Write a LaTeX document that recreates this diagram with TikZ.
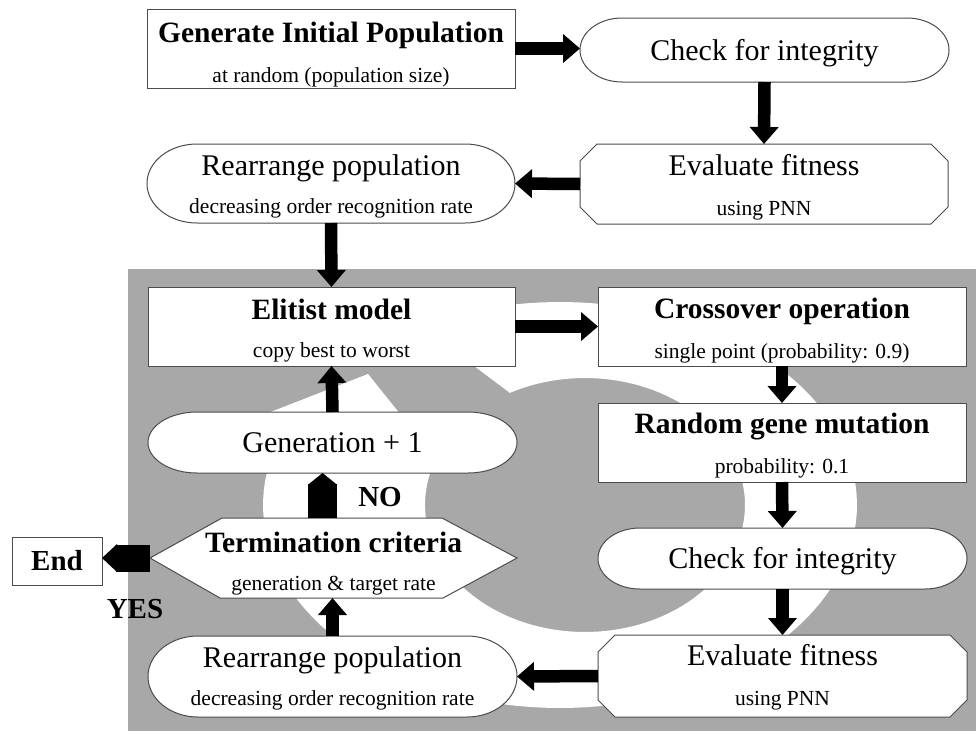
\documentclass[tikz,border=0pt]{standalone}
\usepackage{fontspec}
\setmainfont{Liberation Serif}
\usetikzlibrary{arrows.meta}
\pgfdeclarelayer{bg}
\pgfdeclarelayer{shp}
\pgfsetlayers{bg,shp,main}
\definecolor{bgc}{gray}{0.66}
\definecolor{edgec}{gray}{0.3}
\newcommand\drawstadium[3]{%
  \path[outl] ([xshift=#2pt]#1.north west) -- ([xshift=-#2pt]#1.north east)
    arc[start angle=90, end angle=-90, x radius=#2pt, y radius=#3pt]
    -- ([xshift=#2pt]#1.south west)
    arc[start angle=270, end angle=90, x radius=#2pt, y radius=#3pt] -- cycle;}
\newcommand\drawchamf[2]{%
  \path[outl] ([xshift=#2pt]#1.north west) -- ([xshift=-#2pt]#1.north east)
    -- ([yshift=-#2pt]#1.north east) -- ([yshift=#2pt]#1.south east)
    -- ([xshift=-#2pt]#1.south east) -- ([xshift=#2pt]#1.south west)
    -- ([yshift=#2pt]#1.south west) -- ([yshift=-#2pt]#1.north west) -- cycle;}
\newcommand\drawhexa[1]{%
  \path[outl] (#1.west) -- ([xshift=72pt]#1.north west) -- ([xshift=-75pt]#1.north east)
    -- (#1.east) -- ([xshift=-74pt]#1.south east) -- ([xshift=70pt]#1.south west) -- cycle;}
\begin{document}
\begin{tikzpicture}[x=1pt,y=-1pt,
  slot/.style 2 args={inner sep=0pt, outer sep=0pt, minimum width=#1pt, minimum height=#2pt},
  rbox/.style={draw=edgec, fill=white, line width=1pt},
  outl/.style={draw=edgec, fill=white, line width=1pt},
  btitle/.style={font=\fontsize{29.5}{30}\selectfont\bfseries, inner sep=0pt, anchor=base},
  rtitle/.style={font=\fontsize{30}{31}\selectfont, inner sep=0pt, anchor=base},
  subt/.style={font=\fontsize{21.5}{22}\selectfont, inner sep=0pt, anchor=base},
  lbl/.style={font=\fontsize{29}{30}\selectfont\bfseries, inner sep=0pt, anchor=base},
  fat/.style={line width=12.5pt, -{Triangle[width=28pt,length=17pt]}},
  house/.style={line width=29pt, -{Triangle[width=29pt,length=12pt]}},
  yesarr/.style={line width=27pt, -{Triangle[width=27pt,length=15pt]}}]
\useasboundingbox (0,0) rectangle (976,731);
\begin{pgfonlayer}{bg}
  \fill[white] (0,0) rectangle (976,731);
  \fill[bgc] (128,269) rectangle (976,731);
  \fill[white] plot[domain=242:560,samples=120] ({560+297*cos(\x)},{505+203*sin(\x)})
     -- plot[domain=560:242,samples=120] ({585+160*cos(\x)},{505+127*sin(\x)}) -- cycle;
  \fill[white] (368,374) -- (250,420) -- (445,470) -- cycle;
\end{pgfonlayer}

% shape slots
\node[slot={368}{79}, rbox] (gen) at (331,48.5) {};
\node[slot={369}{64}] (chk1) at (764.5,50) {};
\node[slot={368}{80}] (ev1) at (764,184) {};
\node[slot={368}{79}] (re1) at (331,183.5) {};
\node[slot={367}{79}, rbox] (el) at (331.5,326.5) {};
\node[slot={368}{79}, rbox] (co) at (782,326.5) {};
\node[slot={368}{79}, rbox] (rg) at (782,442.5) {};
\node[slot={369}{61}] (chk2) at (782.5,558.5) {};
\node[slot={369}{82}] (ev2) at (782.5,676) {};
\node[slot={369}{81}] (re2) at (332.5,676.5) {};
\node[slot={367}{80}] (tc) at (333.5,558) {};
\node[slot={369}{61}] (gn) at (332.5,442.5) {};
\node[slot={90}{48}, rbox] (endb) at (57,561) {};

\begin{pgfonlayer}{shp}
  \drawstadium{chk1}{42}{32}
  \drawchamf{ev1}{17}
  \drawstadium{re1}{50}{39.5}
  \drawstadium{chk2}{42}{30.5}
  \drawchamf{ev2}{17}
  \drawstadium{re2}{50}{40.5}
  \drawhexa{tc}
  \drawstadium{gn}{49}{30.5}
\end{pgfonlayer}

% texts
\node[btitle] (genT) at ([yshift=-33pt]gen.north) {Generate Initial Population};
\node[subt] (genS) at ([yshift=6pt]gen.south) {at random (population size)};
\node[rtitle] (chk1T) at ([yshift=-10pt]chk1.center) {Check for integrity};
\node[rtitle] (ev1T) at ([yshift=-31pt]ev1.north) {Evaluate fitness};
\node[subt] (ev1S) at ([yshift=9pt]ev1.south) {using PNN};
\node[rtitle] (re1T) at ([yshift=-31pt]re1.north) {Rearrange population};
\node[subt] (re1S) at ([yshift=10pt]re1.south) {decreasing order recognition rate};
\node[btitle] (elT) at ([yshift=-32pt]el.north) {Elitist model};
\node[subt] (elS) at ([yshift=9pt]el.south) {copy best to worst};
\node[btitle] (coT) at ([yshift=-31pt]co.north) {Crossover operation};
\node[subt] (coS) at ([yshift=8pt]co.south) {single point (probability: 0.9)};
\node[btitle] (rgT) at ([yshift=-30pt]rg.north) {Random gene mutation};
\node[subt] (rgS) at ([yshift=9pt]rg.south) {probability: 0.1};
\node[rtitle] (chk2T) at ([yshift=-10pt]chk2.center) {Check for integrity};
\node[rtitle] (ev2T) at ([yshift=-30pt]ev2.north) {Evaluate fitness};
\node[subt] (ev2S) at ([yshift=12pt]ev2.south) {using PNN};
\node[rtitle] (re2T) at ([yshift=-31pt]re2.north) {Rearrange population};
\node[subt] (re2S) at ([yshift=12pt]re2.south) {decreasing order recognition rate};
\node[btitle] (tcT) at ([yshift=-34pt]tc.north) {Termination criteria};
\node[subt] (tcS) at ([yshift=8pt]tc.south) {generation \& target rate};
\node[rtitle] (gnT) at ([yshift=-10pt]gn.center) {Generation + 1};
\node[lbl] (endT) at ([yshift=-9pt]endb.center) {End};
\node[lbl] (noL) at (380,506) {NO};
\node[lbl] (yesL) at (135,618) {YES};

% connectors
\draw[fat] (gen.east) -- (gen.east -| chk1.west);
\draw[fat] (chk1.south) -- (ev1.north);
\draw[fat] (ev1.west) -- (re1.east);
\draw[fat] (re1.south) -- (el.north);
\draw[fat] (el.east) -- (co.west);
\draw[fat] (co.south) -- (rg.north);
\draw[fat] (rg.south) -- (chk2.north);
\draw[fat] (chk2.south) -- (ev2.north);
\draw[fat] (ev2.west) -- (re2.east);
\draw[fat] (re2.north) -- (re2.north |- tc.south);
\draw[fat] (gn.north) -- (el.south);
\draw[house] ([xshift=-11pt]tc.north) -- ([xshift=-11pt]tc.north |- gn.south);
\draw[yesarr] (tc.west) -- (tc.west -| endb.east);
\end{tikzpicture}
\end{document}
